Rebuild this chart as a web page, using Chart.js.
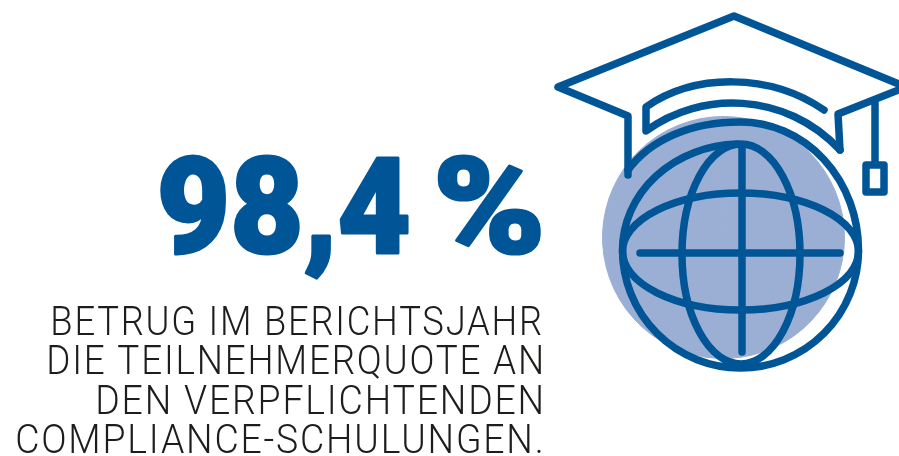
<!DOCTYPE html>
<html lang="de">
<head>
<meta charset="utf-8">
<style>html,body{margin:0;padding:0;background:#fff}canvas{display:block}</style>
<script src="https://cdn.jsdelivr.net/npm/chart.js@4"></script>
</head>
<body>
<canvas id="c" width="899" height="456"></canvas>
<script>
const categories = ['Teilnehmerquote', 'Rest'];
const shareValues = [98.4, 1.6];
const captionLines = ['BETRUG IM BERICHTSJAHR', 'DIE TEILNEHMERQUOTE AN', 'DEN VERPFLICHTENDEN', 'COMPLIANCE-SCHULUNGEN.'];
const BLUE = '#005597', DISC = '#9bafd5', INK = '#1d1d1b';

// Draws text so that its inked box spans leftX..rightX on the given baseline.
function fitText(ctx, text, font, leftX, rightX, baseY, color, spacing, weightStroke) {
  ctx.save();
  ctx.font = font; ctx.fillStyle = color; ctx.strokeStyle = color;
  ctx.textAlign = 'left'; ctx.textBaseline = 'alphabetic';
  ctx.letterSpacing = (spacing || 0) + 'px';
  ctx.lineJoin = 'round';
  const m = ctx.measureText(text);
  const ink = m.actualBoundingBoxRight + m.actualBoundingBoxLeft;
  const pad = weightStroke ? weightStroke / 2 : 0;
  const sx = (rightX - leftX - 2 * pad) / ink;
  ctx.translate(leftX + pad + m.actualBoundingBoxLeft * sx, baseY);
  ctx.scale(sx, 1);
  ctx.fillText(text, 0, 0);
  if (weightStroke) { ctx.lineWidth = weightStroke; ctx.strokeText(text, 0, 0); }
  ctx.restore();
}

const infographic = {
  id: 'infographic',
  afterDatasetsDraw(chart) {
    const ctx = chart.ctx;
    ctx.save();
    ctx.strokeStyle = BLUE; ctx.lineWidth = 7.5; ctx.lineCap = 'round'; ctx.lineJoin = 'round';
    const s = p => ctx.stroke(new Path2D(p));
    s('M628 175L628 116L558 87L734 16L906 87L838 114L840 150');
    s('M824 110C770 73 695 73 646 107L646 131C700 91 785 91 840 150');
    s('M875 103L875 164');
    s('M866 165H884V192H866Z');
    ctx.beginPath();
    ctx.ellipse(740.5, 250, 118, 106, 0, -Math.PI / 2 - 0.03, -Math.PI, true);
    ctx.arc(740.5, 250, 118, Math.PI, 0, true);
    ctx.ellipse(740.5, 250, 118, 128, 0, 0, -Math.PI / 2, true);
    ctx.bezierCurveTo(690, 122, 650, 140, 628, 170);
    ctx.stroke();
    ctx.beginPath(); ctx.ellipse(741, 254, 59, 110, 0, 0, Math.PI * 2); ctx.stroke();
    ctx.beginPath(); ctx.ellipse(740.5, 251.5, 118, 58.5, 0, 0, Math.PI * 2); ctx.stroke();
    s('M742 146L742 352');
    s('M640 253L840 253');
    ctx.restore();
    const number = String(shareValues[0]).replace('.', ',');
    fitText(ctx, number, '900 134px Roboto, sans-serif', 160, 409, 253, BLUE, 0, 3);
    fitText(ctx, '%', '900 134px Roboto, sans-serif', 437, 541, 253, BLUE, 0, 3);
    const lefts = [53, 49, 98, 17];
    const bases = [335, 374, 414, 453];
    captionLines.forEach((t, i) => fitText(ctx, t, '300 41.5px Roboto, sans-serif', lefts[i], 541, bases[i], INK, 2));
  }
};

new Chart(document.getElementById('c'), {
  type: 'pie',
  data: {
    labels: categories,
    datasets: [{ data: shareValues, backgroundColor: [DISC, DISC], borderColor: DISC, borderWidth: 1 }]
  },
  options: {
    responsive: false,
    animation: false,
    layout: { padding: { left: 601, right: 53, top: 116, bottom: 97 } },
    plugins: { legend: { display: false }, tooltip: { enabled: false } }
  },
  plugins: [infographic]
});
</script>
</body>
</html>
